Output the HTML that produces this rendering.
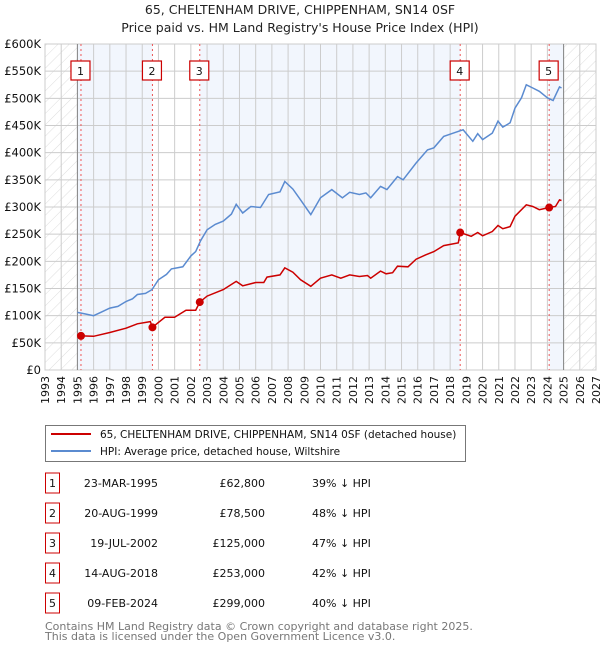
<!DOCTYPE html>
<html><head><meta charset="utf-8">
<style>
body{margin:0;background:#fff;font-family:"DejaVu Sans","Liberation Sans",sans-serif;}
svg text{font-family:"DejaVu Sans","Liberation Sans",sans-serif;}
</style></head>
<body>
<svg id="chart" width="600" height="650" xmlns="http://www.w3.org/2000/svg">
<defs>
<pattern id="hatch" width="8" height="8" patternUnits="userSpaceOnUse" patternTransform="rotate(45)">
<line x1="0" y1="0" x2="0" y2="8" stroke="#d4d4d4" stroke-width="0.8"/>
</pattern>
</defs>
<text x="300" y="14" text-anchor="middle" font-size="12.5" fill="#222">65, CHELTENHAM DRIVE, CHIPPENHAM, SN14 0SF</text>
<text x="300" y="32" text-anchor="middle" font-size="12.5" fill="#222">Price paid vs. HM Land Registry's House Price Index (HPI)</text>
<g id="plot"></g>
<g id="legend">
<rect x="45.5" y="425.5" width="420" height="36" fill="#fff" stroke="#777"/>
<line x1="51" y1="434" x2="91" y2="434" stroke="#cc0000" stroke-width="2"/>
<text x="100" y="438" font-size="10.5" fill="#111">65, CHELTENHAM DRIVE, CHIPPENHAM, SN14 0SF (detached house)</text>
<line x1="51" y1="451" x2="91" y2="451" stroke="#5b8bd0" stroke-width="2"/>
<text x="100" y="455" font-size="10.5" fill="#111">HPI: Average price, detached house, Wiltshire</text>
</g>
<g id="table"></g>
<text x="45" y="630" font-size="11" fill="#777">Contains HM Land Registry data © Crown copyright and database right 2025.</text>
<text x="45" y="640" font-size="11" fill="#777">This data is licensed under the Open Government Licence v3.0.</text>
</svg>
<script>
const yTicks=[0,50,100,150,200,250,300,350,400,450,500,550,600];
const xYears=[1993,1994,1995,1996,1997,1998,1999,2000,2001,2002,2003,2004,2005,2006,2007,2008,2009,2010,2011,2012,2013,2014,2015,2016,2017,2018,2019,2020,2021,2022,2023,2024,2025,2026,2027];
const saleYears=[1995.22,1999.63,2002.55,2018.62,2024.11];
const salePrices=[62.8,78.5,125,253,299];
const saleDates=["23-MAR-1995","20-AUG-1999","19-JUL-2002","14-AUG-2018","09-FEB-2024"];
const saleLabels=["£62,800","£78,500","£125,000","£253,000","£299,000"];
const salePct=["39% ↓ HPI","48% ↓ HPI","47% ↓ HPI","42% ↓ HPI","40% ↓ HPI"];
const hpiYears=[1995.0,1995.5,1996.0,1996.5,1997.0,1997.5,1998.0,1998.4,1998.7,1999.2,1999.6,2000.0,2000.5,2000.8,2001.5,2002.0,2002.3,2002.6,2003.0,2003.5,2004.0,2004.5,2004.8,2005.2,2005.7,2006.3,2006.8,2007.5,2007.8,2008.3,2008.77,2009.4,2010.0,2010.7,2011.35,2011.8,2012.4,2012.8,2013.1,2013.7,2014.1,2014.75,2015.1,2015.9,2016.6,2017.0,2017.6,2018.2,2018.8,2019.4,2019.7,2020.0,2020.6,2020.95,2021.25,2021.7,2022.0,2022.4,2022.7,2023.1,2023.5,2024.0,2024.35,2024.75,2024.87];
const hpiValues=[106,103,100,107,114,117,126,131,139,141,148,166,176,186,190,210,218,238,258,268,274,287,305,289,301,299,323,328,347,333,313,286,317,332,317,327,323,326,317,338,332,356,350,381,405,409,430,436,442,421,435,424,436,458,447,455,482,501,525,519,513,501,496,521,519];
const redYears=[1995.22,1996.0,1997.0,1998.0,1998.7,1999.5,1999.63,2000.4,2001.0,2001.7,2002.3,2002.55,2003.0,2004.0,2004.8,2005.2,2006.0,2006.5,2006.7,2007.5,2007.8,2008.3,2008.77,2009.4,2010.0,2010.7,2011.25,2011.8,2012.4,2012.9,2013.1,2013.7,2014.05,2014.45,2014.75,2015.4,2015.9,2016.5,2017.0,2017.6,2018.5,2018.62,2019.3,2019.7,2020.0,2020.6,2020.95,2021.25,2021.7,2022.0,2022.7,2023.1,2023.5,2024.11,2024.5,2024.75,2024.87];
const redValues=[62.8,62,69,77,85,89,78.5,97,97,110,110,125,136,148,163,155,161,161,171,175,188,180,166,154,169,175,169,175,172,174,169,182,177,179,191,190,204,212,218,229,234,253,246,253,247,255,266,260,264,283,304,301,295,299,301,313,312];

const NS="http://www.w3.org/2000/svg";
const X0=45,X1=596,Y0=370,Y1=44;
const xs=y=>X0+(y-1993)/(2027-1993)*(X1-X0);
const ys=v=>Y0-v/600*(Y0-Y1);
const plot=document.getElementById('plot');
function mk(tag,attrs,parent){const e=document.createElementNS(NS,tag);for(const k in attrs)e.setAttribute(k,attrs[k]);(parent||plot).appendChild(e);return e;}

let r;
r=mk('rect',{x:X0,y:Y1,width:xs(1995)-X0,height:Y0-Y1,fill:'url(#hatch)'});


r=mk('rect',{x:xs(2025),y:Y1,width:X1-xs(2025),height:Y0-Y1,fill:'url(#hatch)'});


const bands=[[1995,saleYears[1]],[saleYears[2],saleYears[3]],[saleYears[4],2025]];
bands.forEach((b,i)=>{
  const e=mk('rect',{x:xs(b[0]),y:Y1,width:xs(b[1])-xs(b[0]),height:Y0-Y1,fill:'#eef3fc',opacity:0.75});
  
  
});
xYears.forEach(y=>{
  const l=mk('line',{x1:xs(y),x2:xs(y),y1:Y1,y2:Y0,stroke:'#ccc','stroke-width':1});
  
  
  const t=mk('text',{x:0,y:0,'font-size':11,fill:'#111','text-anchor':'end',transform:`translate(${xs(y)+4},${Y0+6}) rotate(-90)`});
  t.textContent=y;
  
  
});
yTicks.forEach(v=>{
  const l=mk('line',{x1:X0,x2:X1,y1:ys(v),y2:ys(v),stroke:'#ccc','stroke-width':1});
  
  
  const t=mk('text',{x:X0-4,y:ys(v)+4,'font-size':11.5,fill:'#111','text-anchor':'end'});
  t.textContent=v===0?'£0':'£'+v+'K';
  
  
});
r=mk('rect',{x:X0,y:Y1,width:X1-X0,height:Y0-Y1,fill:'none',stroke:'#ccc'});


[1995,2025].forEach(y=>{
  const l=mk('line',{x1:xs(y),x2:xs(y),y1:Y1,y2:Y0,stroke:'#888','stroke-width':1});
  
  
});
saleYears.forEach((y,i)=>{
  const l=mk('line',{x1:xs(y),x2:xs(y),y1:Y1,y2:Y0,stroke:'#e55','stroke-width':1,'stroke-dasharray':'2,3'});
  
  
  const b=mk('rect',{x:xs(y)-10,y:61,width:19,height:19,fill:'#fff',stroke:'#cc0000','stroke-width':1.2});
  
  
  const t=mk('text',{x:xs(y)-0.5,y:75,'font-size':11,fill:'#111','text-anchor':'middle'});
  t.textContent=i+1;
  
  
});
const path=(xa,va)=>xa.map((x,i)=>(i?'L':'M')+xs(x).toFixed(1)+','+ys(va[i]).toFixed(1)).join('');
let p=mk('path',{d:path(hpiYears,hpiValues),fill:'none',stroke:'#5b8bd0','stroke-width':1.5});


p=mk('path',{d:path(redYears,redValues),fill:'none',stroke:'#cc0000','stroke-width':1.5});


saleYears.forEach((y,i)=>{
  const c=mk('circle',{cx:xs(y),cy:ys(salePrices[i]),r:4,fill:'#cc0000'});
  
  
});
const tb=document.getElementById('table');
saleDates.forEach((d,i)=>{
  const cy=483+i*30;
  const b=mk('rect',{x:45.5,y:cy-10,width:14,height:20,fill:'#fff',stroke:'#cc0000','stroke-width':1},tb);
  
  
  const n=mk('text',{x:52.5,y:cy+4,'font-size':11,fill:'#111','text-anchor':'middle'},tb);
  n.textContent=i+1;
  
  
  const t1=mk('text',{x:158,y:cy+4,'font-size':11,fill:'#111','text-anchor':'end'},tb);
  t1.textContent=d;
  
  
  const t2=mk('text',{x:265,y:cy+4,'font-size':11,fill:'#111','text-anchor':'end'},tb);
  t2.textContent=saleLabels[i];
  
  
  const t3=mk('text',{x:312,y:cy+4,'font-size':11,fill:'#111'},tb);
  t3.textContent=salePct[i];
  
  
});
</script>
</body></html>
